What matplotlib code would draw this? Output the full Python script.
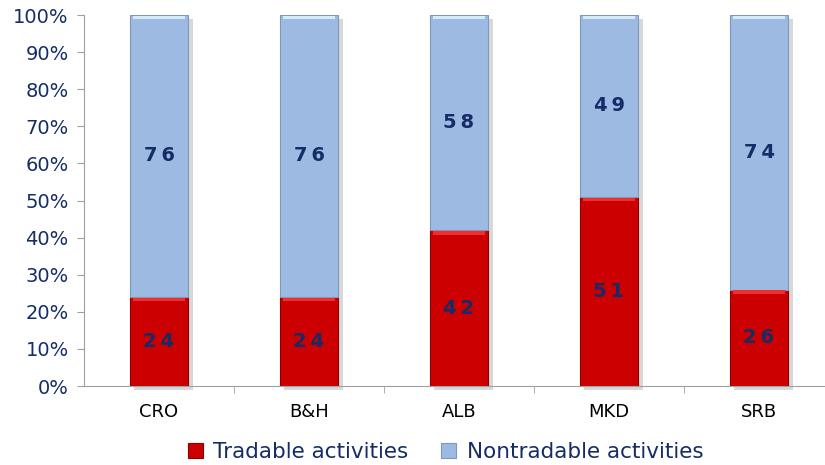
import matplotlib.pyplot as plt
import numpy as np

countries = ['CRO', 'B&H', 'ALB', 'MKD', 'SRB']
tradable = [24, 24, 42, 51, 26]
nontradable = [76, 76, 58, 49, 74]

navy = '#152C66'
red = '#CC0000'
blue = '#9DBBE2'

fig = plt.figure(figsize=(8.25, 4.65), dpi=100)
ax = fig.add_axes([84/825, 1 - 386/465, 741/825, 371/465])

x = np.arange(len(countries))
w = 0.39
# soft shadow behind bars
ax.bar(x + 0.03, np.array(tradable) + np.array(nontradable), w, bottom=-1,
       color='#D8D8D8', zorder=1, clip_on=False)
b1 = ax.bar(x, tradable, w, color=red, edgecolor='#8E0000', linewidth=0.8,
            label='Tradable activities', zorder=2)
b2 = ax.bar(x, nontradable, w, bottom=tradable, color=blue, edgecolor='#7F97B8',
            linewidth=0.8, label='Nontradable activities', zorder=2)
# bevel highlight on top of each segment
ax.bar(x, 1.0, w * 0.9, bottom=np.array(tradable) - 1.2, color='#F03030', zorder=3, linewidth=0)
ax.bar(x, 1.0, w * 0.9, bottom=np.array(tradable) + np.array(nontradable) - 1.2,
       color='#D6ECFA', zorder=3, linewidth=0)

for i in range(len(countries)):
    ax.text(x[i], tradable[i] / 2, '\u2009'.join(str(tradable[i])), ha='center', va='center',
            color=navy, fontsize=14, fontweight='bold', zorder=4)
    ax.text(x[i], tradable[i] + nontradable[i] / 2, '\u2009'.join(str(nontradable[i])),
            ha='center', va='center', color=navy, fontsize=14, fontweight='bold', zorder=4)

ax.set_xlim(-0.5, -0.5 + 741 / 150)
ax.set_ylim(0, 100)
ax.set_yticks(range(0, 101, 10))
ax.set_yticklabels([f'{v}%' for v in range(0, 101, 10)], color=navy, fontsize=14)
ax.set_xticks(x)
ax.set_xticklabels(countries, fontsize=13)
ax.set_xticks(np.arange(0.5, 4.5, 1), minor=True)
ax.tick_params(axis='x', which='major', length=0, pad=12)
ax.tick_params(axis='x', which='minor', length=5, color='#A0A0A0')
ax.tick_params(axis='y', length=5, color='#A0A0A0', pad=6)
for s in ['top', 'right']:
    ax.spines[s].set_visible(False)
ax.spines['left'].set_color('#A0A0A0')
ax.spines['bottom'].set_color('#A0A0A0')

leg = fig.legend(handles=[b1, b2], loc='center', bbox_to_anchor=(0.54, 1 - 452/465),
                 ncol=2, frameon=False, fontsize=15.5, handlelength=0.7, handleheight=0.7,
                 handletextpad=0.5, columnspacing=1.5)
for t in leg.get_texts():
    t.set_color(navy)

fig.savefig('out.png', dpi=100)
